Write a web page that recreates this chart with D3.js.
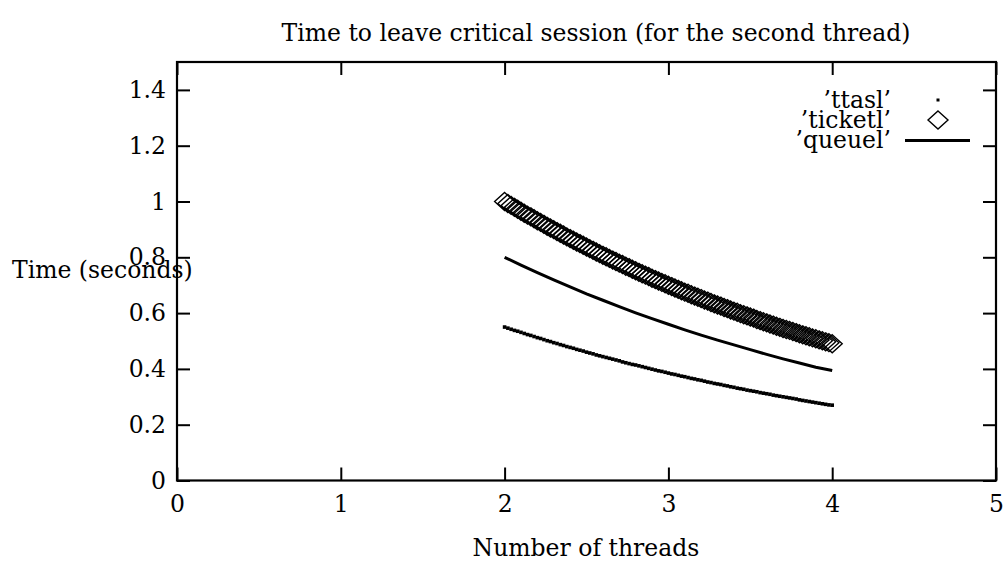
<!DOCTYPE html>
<html>
<head>
<meta charset="utf-8">
<script src="https://cdn.jsdelivr.net/npm/d3@7"></script>
<style>
  html, body { margin: 0; padding: 0; background: #fff; }
  svg { display: block; }
  text { font-family: "DejaVu Serif", "Liberation Serif", serif; fill: #000; }
</style>
</head>
<body>
<svg id="chart" width="1007" height="565"></svg>
<script>
// Thread counts sampled densely (markers) and coarsely (line series)
const threadsFine = [
  2.00, 2.02, 2.04, 2.06, 2.08, 2.10, 2.12, 2.14, 2.16, 2.18,
  2.20, 2.22, 2.24, 2.26, 2.28, 2.30, 2.32, 2.34, 2.36, 2.38,
  2.40, 2.42, 2.44, 2.46, 2.48, 2.50, 2.52, 2.54, 2.56, 2.58,
  2.60, 2.62, 2.64, 2.66, 2.68, 2.70, 2.72, 2.74, 2.76, 2.78,
  2.80, 2.82, 2.84, 2.86, 2.88, 2.90, 2.92, 2.94, 2.96, 2.98,
  3.00, 3.02, 3.04, 3.06, 3.08, 3.10, 3.12, 3.14, 3.16, 3.18,
  3.20, 3.22, 3.24, 3.26, 3.28, 3.30, 3.32, 3.34, 3.36, 3.38,
  3.40, 3.42, 3.44, 3.46, 3.48, 3.50, 3.52, 3.54, 3.56, 3.58,
  3.60, 3.62, 3.64, 3.66, 3.68, 3.70, 3.72, 3.74, 3.76, 3.78,
  3.80, 3.82, 3.84, 3.86, 3.88, 3.90, 3.92, 3.94, 3.96, 3.98,
  4.00
];
const threadsCoarse = [
  2.0, 2.1, 2.2, 2.3, 2.4, 2.5, 2.6, 2.7, 2.8, 2.9,
  3.0, 3.1, 3.2, 3.3, 3.4, 3.5, 3.6, 3.7, 3.8, 3.9, 4.0
];

// 'ttasl' (dots), seconds
const ttasl = [
  0.550, 0.546, 0.542, 0.538, 0.535, 0.531, 0.527, 0.523, 0.520, 0.516,
  0.512, 0.509, 0.505, 0.501, 0.498, 0.494, 0.491, 0.487, 0.484, 0.480,
  0.477, 0.474, 0.470, 0.467, 0.464, 0.460, 0.457, 0.454, 0.450, 0.447,
  0.444, 0.441, 0.438, 0.435, 0.432, 0.429, 0.425, 0.422, 0.419, 0.416,
  0.414, 0.411, 0.408, 0.405, 0.402, 0.399, 0.396, 0.393, 0.391, 0.388,
  0.385, 0.382, 0.380, 0.377, 0.374, 0.372, 0.369, 0.366, 0.364, 0.361,
  0.359, 0.356, 0.353, 0.351, 0.348, 0.346, 0.344, 0.341, 0.339, 0.336,
  0.334, 0.331, 0.329, 0.327, 0.324, 0.322, 0.320, 0.318, 0.315, 0.313,
  0.311, 0.309, 0.306, 0.304, 0.302, 0.300, 0.298, 0.296, 0.294, 0.292,
  0.289, 0.287, 0.285, 0.283, 0.281, 0.279, 0.277, 0.275, 0.273, 0.271,
  0.270
];

// 'ticketl' (diamonds), seconds
const ticketl = [
  1.000, 0.993, 0.986, 0.979, 0.972, 0.965, 0.958, 0.951, 0.945, 0.938,
  0.931, 0.925, 0.918, 0.911, 0.905, 0.899, 0.892, 0.886, 0.880, 0.873,
  0.867, 0.861, 0.855, 0.849, 0.843, 0.837, 0.831, 0.825, 0.819, 0.813,
  0.807, 0.802, 0.796, 0.790, 0.785, 0.779, 0.774, 0.768, 0.763, 0.757,
  0.752, 0.746, 0.741, 0.736, 0.731, 0.725, 0.720, 0.715, 0.710, 0.705,
  0.700, 0.695, 0.690, 0.685, 0.680, 0.675, 0.671, 0.666, 0.661, 0.657,
  0.652, 0.647, 0.643, 0.638, 0.633, 0.629, 0.625, 0.620, 0.616, 0.611,
  0.607, 0.603, 0.598, 0.594, 0.590, 0.586, 0.582, 0.577, 0.573, 0.569,
  0.565, 0.561, 0.557, 0.553, 0.549, 0.545, 0.541, 0.538, 0.534, 0.530,
  0.526, 0.522, 0.519, 0.515, 0.511, 0.508, 0.504, 0.501, 0.497, 0.494,
  0.490
];

// 'queuel' (line), seconds
const queuel = [
  0.800, 0.772, 0.745, 0.719, 0.694, 0.669, 0.646, 0.623, 0.601, 0.580,
  0.560, 0.540, 0.521, 0.503, 0.486, 0.469, 0.452, 0.436, 0.421, 0.406, 0.394
];

const xTicks = [0, 1, 2, 3, 4, 5];
const yTicks = [0, 0.2, 0.4, 0.6, 0.8, 1.0, 1.2, 1.4];
const yTickLabels = ["0", "0.2", "0.4", "0.6", "0.8", "1", "1.2", "1.4"];
const seriesNames = ["\u2019ttasl\u2019", "\u2019ticketl\u2019", "\u2019queuel\u2019"];

const svg = d3.select("#chart");
const fontSize = 23.5;
const plotLeft = 177, plotRight = 996, plotTop = 62, plotBottom = 480.5;

const x = d3.scaleLinear().domain([0, 5]).range([plotLeft, plotRight]);
const y = d3.scaleLinear().domain([0, 1.5]).range([plotBottom, plotTop]);

const tickLen = 13;

// Axes: ticks point inward and are mirrored on the opposite sides
const axisG = svg.append("g").attr("class", "axes");
function styleAxis(g) {
  g.select(".domain").remove();
  g.selectAll(".tick line").attr("stroke", "#000").attr("stroke-width", 2);
  g.selectAll(".tick text").style("font-size", fontSize + "px").attr("fill", "#000");
}
axisG.append("g").attr("transform", `translate(0,${plotBottom})`)
  .call(d3.axisBottom(x).tickValues(xTicks).tickFormat(d3.format("d"))
    .tickSize(-tickLen).tickPadding(15))
  .call(styleAxis);
axisG.append("g").attr("transform", `translate(0,${plotTop})`)
  .call(d3.axisTop(x).tickValues(xTicks).tickFormat(() => "").tickSize(-tickLen))
  .call(styleAxis);
axisG.append("g").attr("transform", `translate(${plotLeft},0)`)
  .call(d3.axisLeft(y).tickValues(yTicks).tickFormat((d, i) => yTickLabels[i])
    .tickSize(-tickLen).tickPadding(11))
  .call(styleAxis);
axisG.append("g").attr("transform", `translate(${plotRight},0)`)
  .call(d3.axisRight(y).tickValues(yTicks).tickFormat(() => "").tickSize(-tickLen))
  .call(styleAxis);

// Plot frame
svg.append("rect")
  .attr("x", plotLeft).attr("y", plotTop)
  .attr("width", plotRight - plotLeft).attr("height", plotBottom - plotTop)
  .attr("fill", "none").attr("stroke", "#000").attr("stroke-width", 2.2);

// Diamond marker path (half-width, half-height)
function diamond(cx, cy, hw, hh) {
  return `M${cx},${cy - hh}L${cx + hw},${cy}L${cx},${cy + hh}L${cx - hw},${cy}Z`;
}

const plot = svg.append("g").attr("class", "plot");

// ticketl diamonds
plot.append("g").selectAll("path")
  .data(ticketl)
  .join("path")
  .attr("d", (d, i) => diamond(x(threadsFine[i]), y(d), 10, 9))
  .attr("fill", "none").attr("stroke", "#000").attr("stroke-width", 1.4);

// queuel line
plot.append("path")
  .datum(queuel)
  .attr("fill", "none").attr("stroke", "#000").attr("stroke-width", 3)
  .attr("d", d3.line().x((d, i) => x(threadsCoarse[i])).y(d => y(d)));

// ttasl dots
const dot = 3.6;
plot.append("g").selectAll("rect")
  .data(ttasl)
  .join("rect")
  .attr("x", (d, i) => x(threadsFine[i]) - dot / 2)
  .attr("y", d => y(d) - dot / 2)
  .attr("width", dot).attr("height", dot)
  .attr("fill", "#000");

// Legend
const legend = svg.append("g").attr("class", "legend");
const legRows = [100, 120, 140];
const legTextX = 891, legSampleX = 938;
seriesNames.forEach((name, i) => {
  legend.append("text")
    .attr("x", legTextX).attr("y", legRows[i])
    .attr("dy", "0.33em")
    .attr("text-anchor", "end")
    .style("font-size", fontSize + "px")
    .text(name);
});
legend.append("rect")
  .attr("x", legSampleX - 1.5).attr("y", legRows[0] - 1.5)
  .attr("width", 3).attr("height", 3).attr("fill", "#000");
legend.append("path")
  .attr("d", diamond(legSampleX, legRows[1], 10, 9))
  .attr("fill", "none").attr("stroke", "#000").attr("stroke-width", 1.4);
legend.append("line")
  .attr("x1", 905).attr("x2", 970)
  .attr("y1", legRows[2] + 0.5).attr("y2", legRows[2] + 0.5)
  .attr("stroke", "#000").attr("stroke-width", 3);

// Titles
svg.append("text")
  .attr("x", 596).attr("y", 41)
  .attr("text-anchor", "middle")
  .style("font-size", fontSize + "px")
  .text("Time to leave critical session (for the second thread)");

svg.append("text")
  .attr("x", 586).attr("y", 556)
  .attr("text-anchor", "middle")
  .style("font-size", fontSize + "px")
  .text("Number of threads");

svg.append("text")
  .attr("x", 12).attr("y", 278)
  .style("font-size", fontSize + "px")
  .text("Time (seconds)");
</script>
</body>
</html>
